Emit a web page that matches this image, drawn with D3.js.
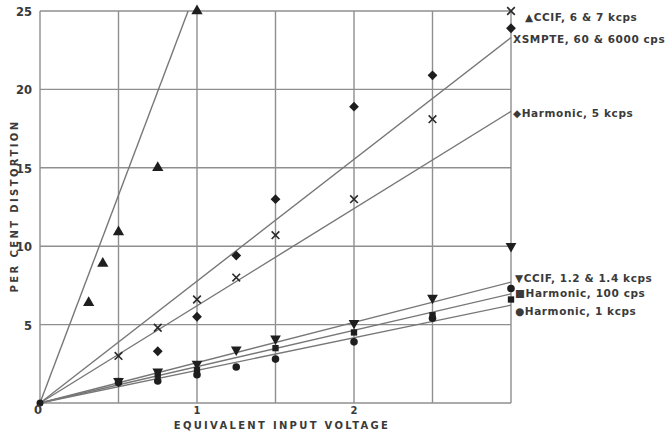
<!DOCTYPE html>
<html lang="en">
  <head>
    <meta charset="UTF-8" />
    <title>Distortion vs input voltage</title>
    <script src="https://d3js.org/d3.v7.min.js"></script>
    <style>
      body { margin: 0; background: #fff; }
      .grid { stroke: #8f8f8f; stroke-width: 1.4px; fill: none; }
      .fit { stroke: #777; stroke-width: 1.4px; fill: none; }
      .mark { fill: #1e1e1e; }
      .xmark { stroke: #2a2a2a; stroke-width: 1.6px; fill: none; }
      text { font-family: "DejaVu Sans", sans-serif; font-weight: bold; fill: #3a3a3a; }
    </style>
  </head>
  <body>
    <svg id="chart" width="672" height="435"></svg>
    <script>
      // values
      const ccif67X = [0.31, 0.4, 0.5, 0.75, 1];
      const ccif67Y = [6.4, 8.9, 10.9, 15.0, 25.0];
      const smpteX = [0.5, 0.75, 1, 1.25, 1.5, 2, 2.5, 3];
      const smpteY = [3.0, 4.8, 6.6, 8.0, 10.7, 13.0, 18.1, 25.0];
      const harm5X = [0.75, 1, 1.25, 1.5, 2, 2.5, 3];
      const harm5Y = [3.3, 5.5, 9.4, 13.0, 18.9, 20.9, 23.9];
      const ccif12X = [0.5, 0.75, 1, 1.25, 1.5, 2, 2.5, 3];
      const ccif12Y = [1.4, 2.0, 2.5, 3.4, 4.1, 5.1, 6.7, 10.0];
      const harm100X = [0.5, 0.75, 1, 1.5, 2, 2.5, 3];
      const harm100Y = [1.4, 1.8, 2.1, 3.5, 4.5, 5.6, 6.6];
      const harm1kX = [0.5, 0.75, 1, 1.25, 1.5, 2, 2.5, 3];
      const harm1kY = [1.3, 1.4, 1.8, 2.3, 2.8, 3.9, 5.4, 7.3];

      // fitted straight lines through the origin (% per volt)
      const fitSlopes = [26.5, 7.77, 6.2, 2.57, 2.32, 2.08];
      const labels = [
        "\u25B2CCIF, 6 & 7 kcps",
        "XSMPTE, 60 & 6000 cps",
        "\u25C6Harmonic, 5 kcps",
        "\u25BCCCIF, 1.2 & 1.4 kcps",
        "\u25A0Harmonic, 100 cps",
        "\u25CFHarmonic, 1 kcps"
      ];
      const yTicks = [5, 10, 15, 20, 25];
      const xTicks = [1, 2];

      const svg = d3.select("#chart");
      const x = d3.scaleLinear().domain([0, 3]).range([40, 511]);
      const y = d3.scaleLinear().domain([0, 25]).range([403, 11]);

      // grid
      svg.append("g").selectAll("line")
        .data(d3.range(0, 3.01, 0.5))
        .join("line").attr("class", "grid")
        .attr("x1", d => x(d)).attr("x2", d => x(d))
        .attr("y1", y(0)).attr("y2", y(25));
      svg.append("g").selectAll("line")
        .data(d3.range(0, 25.01, 5))
        .join("line").attr("class", "grid")
        .attr("x1", x(0)).attr("x2", x(3))
        .attr("y1", d => y(d)).attr("y2", d => y(d));

      // fitted lines
      svg.append("g").selectAll("line")
        .data(fitSlopes)
        .join("line").attr("class", "fit")
        .attr("x1", x(0)).attr("y1", y(0))
        .attr("x2", s => x(Math.min(3, 25 / s)))
        .attr("y2", s => y(Math.min(25, s * 3)));

      const pts = (xs, ys) => xs.map((v, i) => [v, ys[i]]);
      const drawSym = (data, type, size, cls, rot) =>
        svg.append("g").selectAll("path")
          .data(data)
          .join("path")
          .attr("class", cls || "mark")
          .attr("transform", d => `translate(${x(d[0])},${y(d[1])}) rotate(${rot || 0})`)
          .attr("d", d3.symbol(type, size)());

      drawSym(pts(ccif67X, ccif67Y), d3.symbolTriangle, 55);
      drawSym(pts(harm5X, harm5Y), d3.symbolSquare, 48, "mark", 45);
      drawSym(pts(smpteX, smpteY), d3.symbolX, 40, "xmark");
      drawSym(pts(harm1kX, harm1kY), d3.symbolCircle, 45);
      drawSym(pts(harm100X, harm100Y), d3.symbolSquare, 40);
      drawSym(pts(ccif12X, ccif12Y), d3.symbolTriangle, 50, "mark", 180);
      // common origin point
      svg.append("circle").attr("class", "mark")
        .attr("cx", x(0)).attr("cy", y(0)).attr("r", 3.5);

      // legend labels at the right-hand ends of the lines
      const labelDx = [14, 2, 2, 4, 4, 4];
      const labelDy = [10, 5.5, 6, 0, 3, 10];
      const labelV = [25, 23.3, 18.6, 7.7, 6.95, 6.25];
      svg.append("g").selectAll("text")
        .data(labels)
        .join("text")
        .attr("x", (d, i) => x(3) + labelDx[i])
        .attr("y", (d, i) => y(labelV[i]) + labelDy[i])
        .attr("font-size", 10.5)
        .attr("letter-spacing", 0.6)
        .text(d => d);

      // tick labels
      svg.append("g").selectAll("text")
        .data(yTicks)
        .join("text")
        .attr("x", 32).attr("y", d => y(d) + 5)
        .attr("text-anchor", "end").attr("font-size", 11.5)
        .text(d => d);
      svg.append("text").attr("x", 38).attr("y", 414)
        .attr("text-anchor", "middle").attr("font-size", 11.5).text("0");
      svg.append("g").selectAll("text")
        .data(xTicks)
        .join("text")
        .attr("x", d => x(d)).attr("y", 414)
        .attr("text-anchor", "middle").attr("font-size", 10)
        .text(d => d);

      // axis titles
      svg.append("text")
        .attr("x", 282).attr("y", 429)
        .attr("text-anchor", "middle").attr("font-size", 10)
        .attr("letter-spacing", 2.3)
        .text("EQUIVALENT INPUT VOLTAGE");
      svg.append("text")
        .attr("transform", "translate(18,206) rotate(-90)")
        .attr("text-anchor", "middle").attr("font-size", 10)
        .attr("letter-spacing", 2.4)
        .text("PER CENT DISTORTION");
    </script>
  </body>
</html>
